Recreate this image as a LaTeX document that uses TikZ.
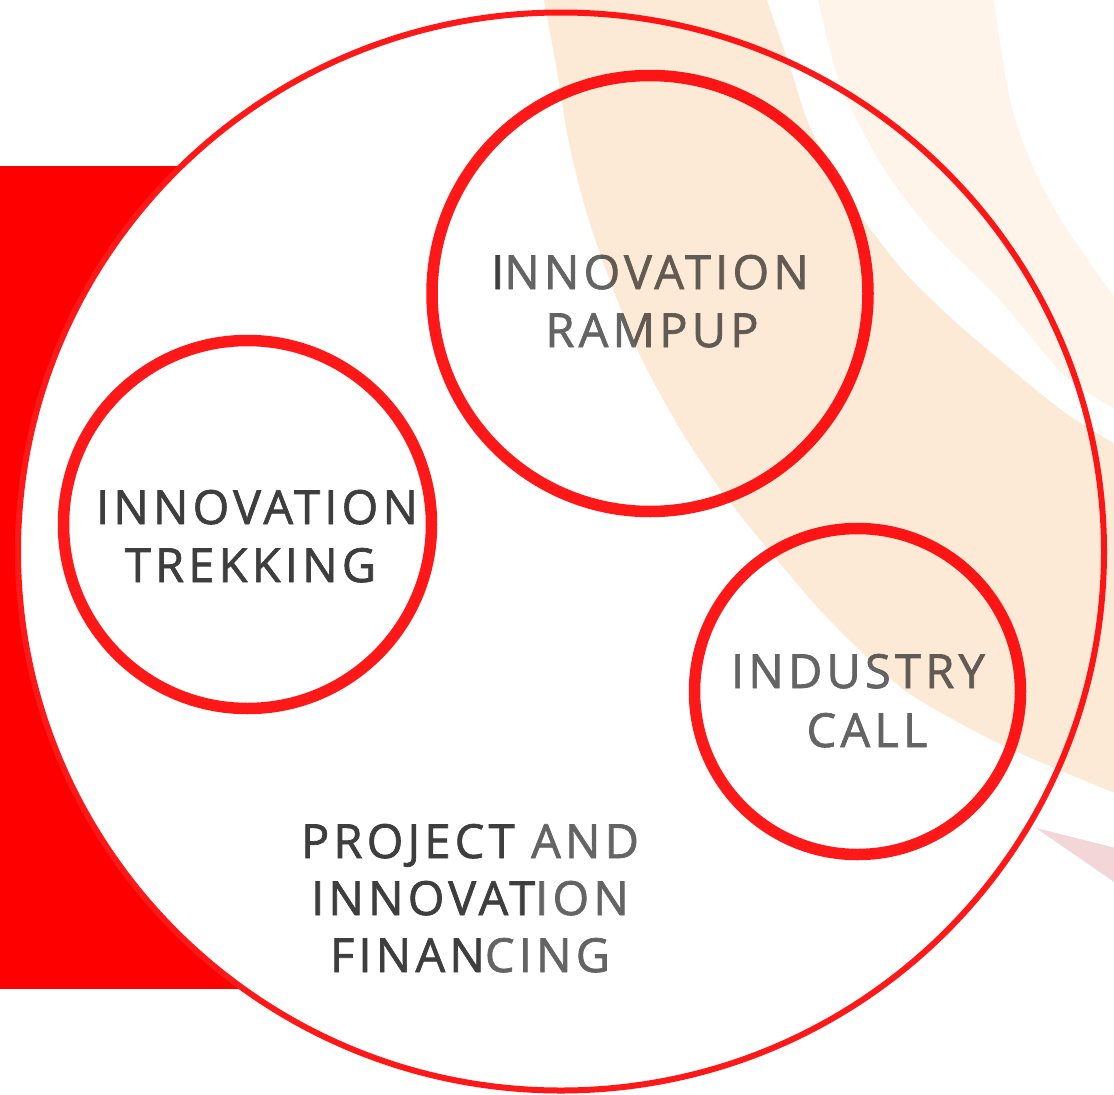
\documentclass[tikz,border=0pt]{standalone}
\usepackage{fontspec}
\usetikzlibrary{shapes.geometric}
\newfontfamily\lblfont{Open Sans}[LetterSpace=9, FakeBold=1.5]
\definecolor{ringred}{RGB}{255,24,24}
\definecolor{boxred}{RGB}{255,0,0}
\definecolor{txtdark}{RGB}{62,62,62}
\definecolor{txtlight}{RGB}{100,100,100}
\definecolor{beigeband}{RGB}{252,233,214}
\definecolor{paleband}{RGB}{254,244,234}
\definecolor{pinkband}{RGB}{242,214,216}
\begin{document}
\begin{tikzpicture}[x=1pt,y=-1pt,
  ring/.style={circle, draw=ringred, line width=11.5pt, inner sep=0pt},
  bigring/.style={ellipse, draw=ringred, fill=white, line width=6pt, inner sep=0pt},
  lbl/.style={font=\lblfont\fontsize{47}{57}\selectfont, text=txtdark, inner sep=0pt, anchor=base}]
\useasboundingbox (0,0) rectangle (1114,1095);
\fill[white] (0,0) rectangle (1114,1095);
% red block behind the big circle
\fill[boxred] (0,166) rectangle (320,989);
% big circle
\node[bigring, minimum width=1086pt, minimum height=1078pt] (outer) at (561,551.5) {};
% small circles
\node[ring, minimum size=436pt] (rampup) at (650,293.5) {};
\node[ring, minimum size=368pt] (trekking) at (247.5,524.5) {};
\node[ring, minimum size=326pt] (industry) at (857.5,691.5) {};
% labels
\node[lbl] (ramp1) at (650,289) {I\textcolor{txtlight}{NNOVATION}};
\node[lbl] (ramp2) at (652,347) {\textcolor{txtlight}{RAMPUP}};
\node[lbl] (trek1) at (257,524) {INNOVATION};
\node[lbl] (trek2) at (250.5,582) {TREKKING};
\node[lbl, text=txtlight] (ind1) at (858,688) {INDUSTRY};
\node[lbl, text=txtlight] (ind2) at (867,747) {CALL};
\node[lbl] (fin1) at (470,858) {PROJECT \textcolor{txtlight}{AND}};
\node[lbl] (fin2) at (470,915) {INNOVAT\textcolor{txtlight}{ION}};
\node[lbl] (fin3) at (470,972) {FINAN\textcolor{txtlight}{CING}};
% translucent background bands laid over the drawing
\begin{scope}[blend mode=multiply]
\fill[beigeband] plot[smooth] coordinates {(543,-5) (557,71) (569,143) (587,214) (612,286) (641,357) (680,429) (723,493) (767,548) (820,610) (870,660) (910,694) (967,727) (1013,750) (1064,772) (1120,795)}
  -- plot[smooth] coordinates {(1120,447) (1064,412) (1000,360) (950,317) (900,267) (850,200) (810,127) (790,67) (765,-5)} -- cycle;
\fill[paleband] plot[smooth] coordinates {(817,-5) (840,83) (883,167) (933,233) (1000,300) (1064,375) (1120,412)}
  -- plot[smooth] coordinates {(1120,305) (1064,225) (1033,167) (1010,100) (993,-5)} -- cycle;
\fill[pinkband] (1036,828) -- (1120,849) -- (1120,886) -- cycle;
\end{scope}
\end{tikzpicture}
\end{document}
